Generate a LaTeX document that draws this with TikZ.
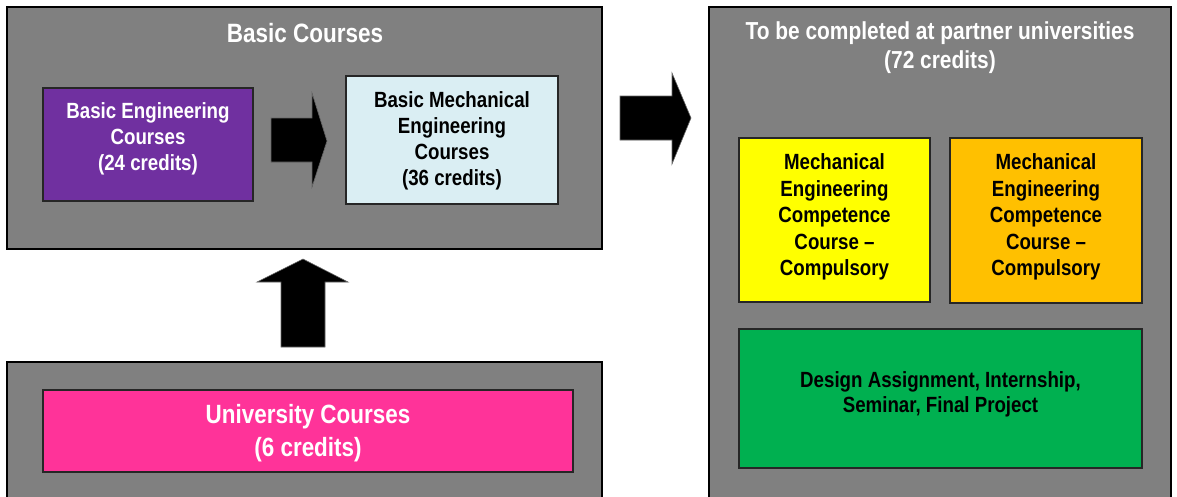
\documentclass[tikz,border=0pt]{standalone}
\usepackage{fontspec}
\setmainfont{Liberation Sans}[FakeStretch=0.85]
\definecolor{boxgray}{HTML}{808080}
\definecolor{bpurple}{HTML}{7030A0}
\definecolor{bblue}{HTML}{DAEEF3}
\definecolor{bpink}{HTML}{FF3399}
\definecolor{byellow}{HTML}{FFFF00}
\definecolor{borange}{HTML}{FFC000}
\definecolor{bgreen}{HTML}{00B050}
\tikzset{
  outerbox/.style={draw=black, fill=boxgray, line width=2pt},
  innerbox/.style={draw=black!85, line width=1.8pt, inner sep=0pt},
  boxtext/.style={align=center, inner sep=0pt, font=\fontsize{22}{26}\selectfont\bfseries},
  titletext/.style={text=white, align=center, inner sep=0pt},
  blockarrow/.style={fill=black, draw=black!60, line width=0.6pt},
}
\begin{document}
\begin{tikzpicture}[x=1pt,y=-1pt]
\useasboundingbox (0,0) rectangle (1177,496);
\clip (0,0) rectangle (1177,496);
% outer boxes
\draw[outerbox] (7,7) rectangle (602,249);
\draw[outerbox] (7,362) rectangle (602,510);
\draw[outerbox] (709,7) rectangle (1171,510);
% titles
\node[titletext, font=\fontsize{26.5}{30}\selectfont\bfseries] (t1) at (305,33) {Basic Courses};
\node[titletext, font=\fontsize{24.6}{29}\selectfont\bfseries] (t2) at (940,47.5) {To be completed at partner universities\\(72 credits)};
% inner boxes
\node[innerbox, fill=bpurple, minimum width=210pt, minimum height=113pt,
  label={[boxtext, text=white, yshift=5.5pt]center:{Basic Engineering\\Courses\\(24 credits)}}] (be) at (148,144.5) {};
\node[innerbox, fill=bblue, minimum width=212pt, minimum height=128pt,
  label={[boxtext, text=black, yshift=-1pt]center:{Basic Mechanical\\Engineering\\Courses\\(36 credits)}}] (bme) at (452,140) {};
\node[innerbox, fill=bpink, minimum width=530pt, minimum height=82pt,
  label={[boxtext, text=white, yshift=-2pt, font=\fontsize{26.4}{33}\selectfont\bfseries]center:{University Courses\\(6 credits)}}] (uc) at (308,431) {};
\node[innerbox, fill=byellow, minimum width=191pt, minimum height=164pt,
  label={[boxtext, text=black, yshift=3pt, font=\fontsize{22}{26.5}\selectfont\bfseries]center:{Mechanical\\Engineering\\Competence\\Course --\\Compulsory}}] (mc1) at (834.5,220) {};
\node[innerbox, fill=borange, minimum width=192pt, minimum height=165pt,
  label={[boxtext, text=black, yshift=3.5pt, font=\fontsize{22}{26.5}\selectfont\bfseries]center:{Mechanical\\Engineering\\Competence\\Course --\\Compulsory}}] (mc2) at (1046,220.5) {};
\node[innerbox, fill=bgreen, minimum width=403pt, minimum height=139pt,
  label={[boxtext, text=black, yshift=4.5pt, font=\fontsize{22}{25}\selectfont\bfseries]center:{Design Assignment, Internship,\\Seminar, Final Project}}] (da) at (940.5,398.5) {};
% block arrows
\draw[blockarrow] (271,118) -- (312,118) -- (312,93) -- (327,141) -- (312,187) -- (312,162) -- (271,162) -- cycle;
\draw[blockarrow] (620,96) -- (672,96) -- (672,73) -- (691,118) -- (672,164) -- (672,140) -- (620,140) -- cycle;
\draw[blockarrow] (281,347) -- (281,282) -- (257,282) -- (303,259) -- (348,282) -- (325,282) -- (325,347) -- cycle;
\end{tikzpicture}
\end{document}
